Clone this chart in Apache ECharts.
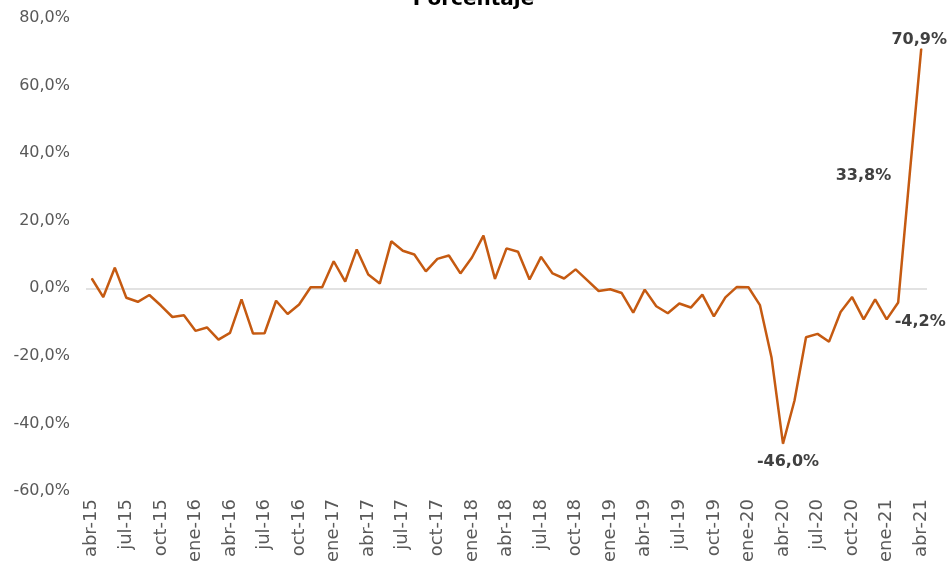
<!DOCTYPE html>
<html>
<head>
<meta charset="utf-8">
<script src="https://cdn.jsdelivr.net/npm/echarts@6/dist/echarts.min.js"></script>
<style>
  html, body { margin: 0; padding: 0; background: #fff; }
  #chart { width: 947px; height: 562px; }
</style>
</head>
<body>
<div id="chart"></div>
<script>
const titleText = 'Porcentaje'
const months = [
  'abr-15','may-15','jun-15','jul-15','ago-15','sep-15','oct-15','nov-15','dic-15',
  'ene-16','feb-16','mar-16','abr-16','may-16','jun-16','jul-16','ago-16','sep-16','oct-16','nov-16','dic-16',
  'ene-17','feb-17','mar-17','abr-17','may-17','jun-17','jul-17','ago-17','sep-17','oct-17','nov-17','dic-17',
  'ene-18','feb-18','mar-18','abr-18','may-18','jun-18','jul-18','ago-18','sep-18','oct-18','nov-18','dic-18',
  'ene-19','feb-19','mar-19','abr-19','may-19','jun-19','jul-19','ago-19','sep-19','oct-19','nov-19','dic-19',
  'ene-20','feb-20','mar-20','abr-20','may-20','jun-20','jul-20','ago-20','sep-20','oct-20','nov-20','dic-20',
  'ene-21','feb-21','mar-21','abr-21'
]
const values = [
  2.9, -2.6, 6.1, -2.8, -4.0, -2.0, -5.1, -8.5, -8.0,
  -12.6, -11.6, -15.2, -13.2, -3.3, -13.4, -13.3, -3.7, -7.6, -4.8, 0.3, 0.3,
  8.0, 2.0, 11.5, 4.1, 1.4, 13.9, 11.1, 10.0, 5.0, 8.7, 9.7, 4.4,
  9.1, 15.6, 2.8, 11.8, 10.8, 2.6, 9.3, 4.4, 2.9, 5.6, 2.4, -0.8,
  -0.3, -1.4, -7.2, -0.4, -5.3, -7.4, -4.5, -5.7, -1.9, -8.3, -2.7, 0.4,
  0.3, -5.0, -20.4, -46.0, -33.2, -14.5, -13.5, -15.8, -7.0, -2.6, -9.2, -3.3,
  -9.2, -4.2, 33.8, 70.9
]
const yTicks = [-60, -40, -20, 0, 20, 40, 60, 80]

// which points carry a value label, and where it goes
const labelled = {
  60: { position: 'bottom', offset: [5, 5] },
  70: { position: 'bottom', offset: [22, 6] },
  71: { position: 'left', distance: 18, offset: [0, 2] },
  72: { position: 'top', distance: 2, offset: [-2, 2] }
}

const fmt = v => v.toFixed(1).replace('.', ',') + '%'
const font = 'DejaVu Sans'

const seriesData = values.map((v, i) => {
  if (!labelled[i]) return v
  return {
    value: v,
    label: Object.assign({
      show: true,
      formatter: p => fmt(p.value),
      color: '#404040',
      fontWeight: 'bold',
      fontSize: 16,
      fontFamily: font
    }, labelled[i])
  }
})

const chart = echarts.init(document.getElementById('chart'))
chart.setOption({
  animation: false,
  title: {
    text: titleText,
    left: 'center',
    top: -15,
    textStyle: { fontFamily: font, fontWeight: 'bold', fontSize: 20, color: '#000' }
  },
  grid: { left: 86, right: 20, top: 18, bottom: 71, outerBoundsMode: 'none' },
  xAxis: {
    type: 'category',
    data: months,
    boundaryGap: true,
    axisLine: { show: false, onZero: false },
    axisTick: { show: false },
    axisLabel: {
      interval: 2,
      rotate: 90,
      margin: 8,
      color: '#595959',
      fontSize: 18,
      fontFamily: font
    }
  },
  yAxis: {
    type: 'value',
    min: yTicks[0],
    max: yTicks[yTicks.length - 1],
    interval: 20,
    splitLine: { show: false },
    axisLine: { show: false },
    axisTick: { show: false },
    axisLabel: {
      formatter: v => fmt(v),
      color: '#595959',
      fontSize: 16,
      fontFamily: font,
      margin: 16
    }
  },
  series: [{
    type: 'line',
    data: seriesData,
    symbol: 'circle',
    symbolSize: 1,
    showSymbol: true,
    lineStyle: { color: '#C55A11', width: 2.5 },
    itemStyle: { color: '#C55A11' },
    markLine: {
      silent: true,
      symbol: 'none',
      label: { show: false },
      lineStyle: { color: '#D9D9D9', width: 1.5, type: 'solid' },
      data: [{ yAxis: 0 }],
      z: 1
    }
  }]
})
</script>
</body>
</html>
